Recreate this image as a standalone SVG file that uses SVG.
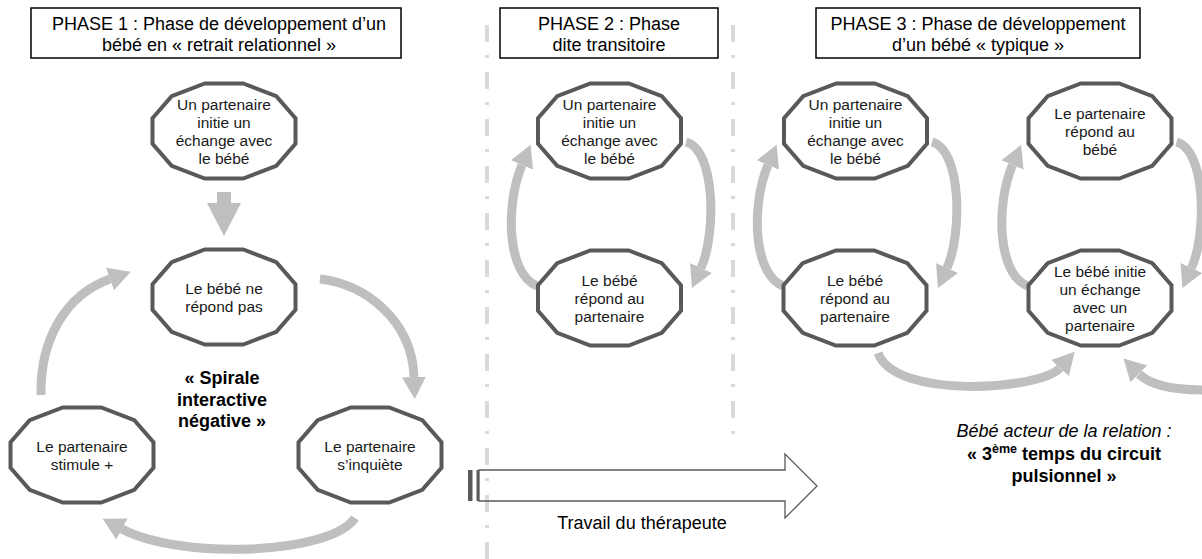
<svg xmlns="http://www.w3.org/2000/svg" xmlns:xlink="http://www.w3.org/1999/xlink" width="1202" height="559" viewBox="0 0 1202 559">
<style>
.title{fill:#fff;stroke:#000;stroke-width:1.5}
.tt{font-family:"Liberation Sans",Arial,sans-serif;font-size:18px;fill:#000;text-anchor:middle}
.nt{font-family:"Liberation Sans",Arial,sans-serif;font-size:15.5px;fill:#1a1a1a;text-anchor:middle}
.bt{font-family:"Liberation Sans",Arial,sans-serif;font-size:18px;font-weight:bold;fill:#000;text-anchor:middle}
.it{font-family:"Liberation Sans",Arial,sans-serif;font-size:18px;font-style:italic;fill:#000;text-anchor:middle}
.node{fill:#fff;stroke:#595959;stroke-width:4;stroke-linejoin:miter}
.arc{fill:none;stroke:#bfbfbf;stroke-width:9;marker-end:url(#head)}
.sep{stroke:#d9d9d9;stroke-width:4;stroke-dasharray:17 13 3 14}
</style>
<defs>
<polygon id="dodec" points="71.5,12.7 52.3,34.8 19.2,47.5 -19.2,47.5 -52.3,34.8 -71.5,12.7 -71.5,-12.7 -52.3,-34.8 -19.2,-47.5 19.2,-47.5 52.3,-34.8 71.5,-12.7"/>
<marker id="head" markerUnits="userSpaceOnUse" markerWidth="24" markerHeight="26" refX="0" refY="13" orient="auto">
<path d="M0,1 L22,13 L0,25 Z" fill="#bfbfbf"/>
</marker>
</defs>
<rect width="1202" height="559" fill="#fff"/>

<g id="separators">
<line class="sep" x1="487" y1="25" x2="487" y2="559"/>
<line class="sep" x1="733" y1="25" x2="733" y2="437"/>
</g>

<g id="titles">
<g id="title1">
<rect class="title" x="31" y="8" width="370" height="50"/>
<text class="tt" x="219" y="30">PHASE 1 : Phase de développement d’un</text>
<text class="tt" x="219" y="51">bébé en « retrait relationnel »</text>
</g>
<g id="title2">
<rect class="title" x="500" y="8" width="218" height="50"/>
<text class="tt" x="609" y="30">PHASE 2 : Phase</text>
<text class="tt" x="609" y="51">dite transitoire</text>
</g>
<g id="title3">
<rect class="title" x="816" y="8" width="324" height="50"/>
<text class="tt" x="978" y="30">PHASE 3 : Phase de développement</text>
<text class="tt" x="978" y="51">d’un bébé « typique »</text>
</g>
</g>

<g id="connectors">
<polygon points="217,192 231,192 231,203 241,203 224,236 207,203 217,203" fill="#bfbfbf"/>
<path class="arc" d="M41,395 C40,340 65,295 110,279"/>
<path class="arc" d="M320,279 C365,284 412,320 414,377"/>
<path class="arc" d="M355,518 C330,555 180,560 122,529"/>
<path class="arc" d="M537,286 C507,274 505,205 522,165"/>
<path class="arc" d="M686,142 C716,150 716,235 701,268"/>
<path class="arc" d="M783,286 C753,274 751,205 768,165"/>
<path class="arc" d="M932,142 C962,150 962,235 947,268"/>
<path class="arc" d="M1027.5,286 C997.5,274 995.5,205 1012.5,165"/>
<path class="arc" d="M1176.5,142 C1206.5,150 1206.5,235 1191.5,268"/>
<path class="arc" d="M878,353 C895,400 1040,390 1060,368"/>
<path class="arc" d="M1205,390 C1175,390 1150,385 1139,374"/>
</g>

<g id="therapist-arrow">
<rect x="468" y="470" width="4.5" height="31" fill="#595959"/>
<rect x="476.5" y="470" width="2.5" height="31" fill="#595959"/>
<path d="M479,470 H785 V454 L817,486 L785,518 V501 H479 Z" fill="none" stroke="#595959" stroke-width="1.3"/>
<text class="tt" x="642" y="529">Travail du thérapeute</text>
</g>

<g id="n1"><use xlink:href="#dodec" class="node" x="224" y="131"/>
<text class="nt" x="224" y="109.5">Un partenaire<tspan x="224" dy="18">initie un</tspan><tspan x="224" dy="18">échange avec</tspan><tspan x="224" dy="18">le bébé</tspan></text></g>
<g id="n2"><use xlink:href="#dodec" class="node" x="224" y="297"/>
<text class="nt" x="224" y="293.5">Le bébé ne<tspan x="224" dy="18">répond pas</tspan></text></g>
<g id="n3"><use xlink:href="#dodec" class="node" x="82" y="455"/>
<text class="nt" x="82" y="451.5">Le partenaire<tspan x="82" dy="18">stimule +</tspan></text></g>
<g id="n4"><use xlink:href="#dodec" class="node" x="370" y="455"/>
<text class="nt" x="370" y="451.5">Le partenaire<tspan x="370" dy="18">s’inquiète</tspan></text></g>
<g id="n5"><use xlink:href="#dodec" class="node" x="609.5" y="131"/>
<text class="nt" x="609.5" y="109.5">Un partenaire<tspan x="609.5" dy="18">initie un</tspan><tspan x="609.5" dy="18">échange avec</tspan><tspan x="609.5" dy="18">le bébé</tspan></text></g>
<g id="n6"><use xlink:href="#dodec" class="node" x="609.5" y="298"/>
<text class="nt" x="609.5" y="285.5">Le bébé<tspan x="609.5" dy="18">répond au</tspan><tspan x="609.5" dy="18">partenaire</tspan></text></g>
<g id="n7"><use xlink:href="#dodec" class="node" x="855.5" y="131"/>
<text class="nt" x="855.5" y="109.5">Un partenaire<tspan x="855.5" dy="18">initie un</tspan><tspan x="855.5" dy="18">échange avec</tspan><tspan x="855.5" dy="18">le bébé</tspan></text></g>
<g id="n8"><use xlink:href="#dodec" class="node" x="1100" y="131"/>
<text class="nt" x="1100" y="118.5">Le partenaire<tspan x="1100" dy="18">répond au</tspan><tspan x="1100" dy="18">bébé</tspan></text></g>
<g id="n9"><use xlink:href="#dodec" class="node" x="855" y="298"/>
<text class="nt" x="855" y="285.5">Le bébé<tspan x="855" dy="18">répond au</tspan><tspan x="855" dy="18">partenaire</tspan></text></g>
<g id="n10"><use xlink:href="#dodec" class="node" x="1100" y="298"/>
<text class="nt" x="1100" y="276.5">Le bébé initie<tspan x="1100" dy="18">un échange</tspan><tspan x="1100" dy="18">avec un</tspan><tspan x="1100" dy="18">partenaire</tspan></text></g>

<g id="labels">
<text class="bt" x="222" y="384">« Spirale<tspan x="222" dy="21.5">interactive</tspan><tspan x="222" dy="21.5">négative »</tspan></text>
<text class="it" x="1064" y="437">Bébé acteur de la relation :</text>
<text class="bt" x="1064" y="460" font-size="19px">« 3<tspan font-size="12.5px" dy="-7">ème</tspan><tspan dy="7"> temps du circuit</tspan></text>
<text class="bt" x="1064" y="482" font-size="19px">pulsionnel »</text>
</g>
</svg>
